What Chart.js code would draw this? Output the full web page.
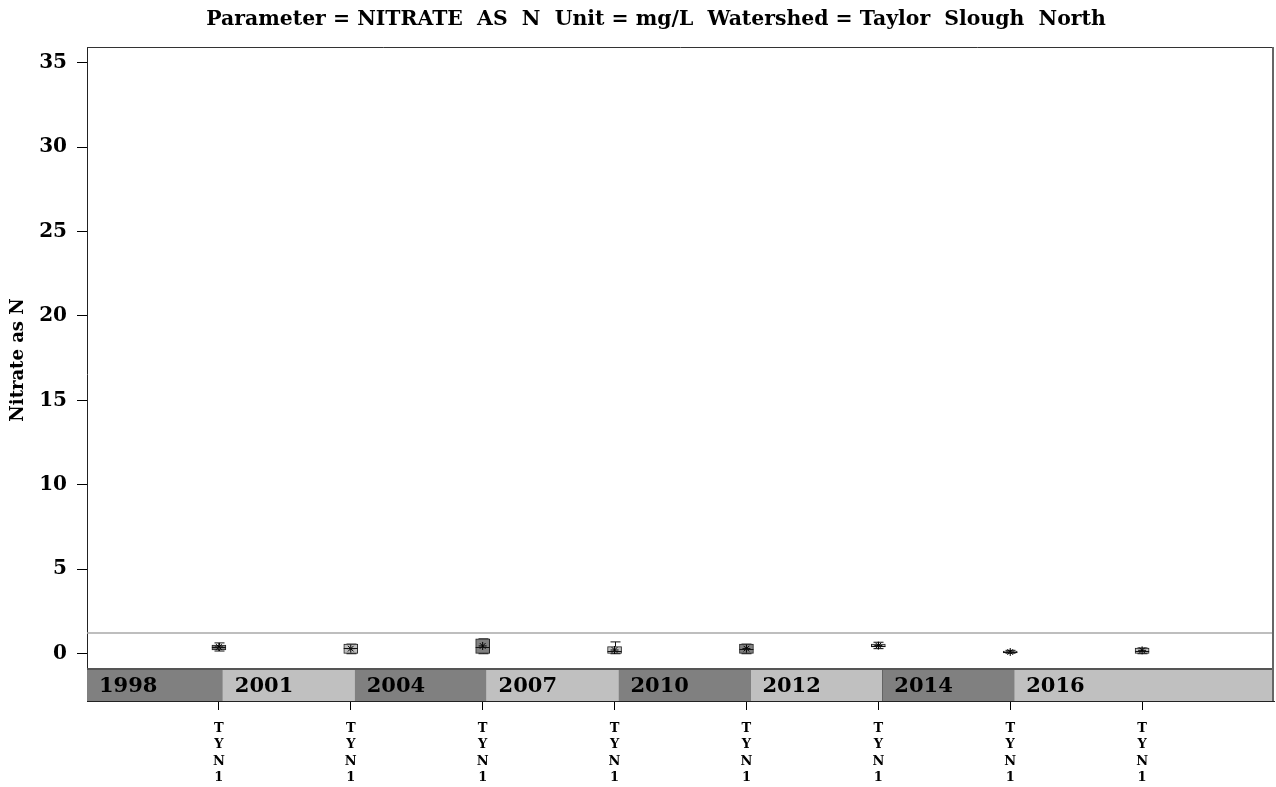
<!DOCTYPE html>
<html>
<head>
<meta charset="utf-8">
<script src="https://cdn.jsdelivr.net/npm/chart.js@4"></script>
<style>
  html, body { margin: 0; padding: 0; background: #fff; }
</style>
</head>
<body>
<canvas id="chart" width="1276" height="787"></canvas>
<script>
// data
const stations = ['TYN1', 'TYN1', 'TYN1', 'TYN1', 'TYN1', 'TYN1', 'TYN1', 'TYN1']
const years = ['1998', '2001', '2004', '2007', '2010', '2012', '2014', '2016']
const whiskerLow = [0.16, 0.0, 0.0, 0.0, 0.0, 0.30, 0.03, 0.0]
const q1 = [0.22, 0.02, 0.02, 0.02, 0.02, 0.40, 0.05, 0.02]
const median = [0.40, 0.34, 0.40, 0.16, 0.30, 0.48, 0.10, 0.18]
const q3 = [0.51, 0.57, 0.88, 0.42, 0.57, 0.57, 0.16, 0.34]
const whiskerHigh = [0.64, 0.57, 0.88, 0.70, 0.57, 0.68, 0.20, 0.34]
const means = [0.40, 0.30, 0.46, 0.22, 0.30, 0.48, 0.10, 0.20]
const yTicks = [0, 5, 10, 15, 20, 25, 30, 35]
const refLine = 1.22

const titleText = 'Parameter = NITRATE  AS  N  Unit = mg/L  Watershed = Taylor  Slough  North'
const yTitle = 'Nitrate as N'
const serif = "'DejaVu Serif', 'Liberation Serif', serif"

const dark = '#808080'
const light = '#c0c0c0'
const bandTop = -0.9
const bandShift = 0.03

const extras = {
  id: 'extras',
  beforeDatasetsDraw (chart) {
    const { ctx, chartArea: a, scales: { x, y } } = chart
    ctx.save()
    // year band under the boxes
    const top = y.getPixelForValue(bandTop)
    years.forEach((yr, i) => {
      const left = i === 0 ? a.left : x.getPixelForValue(i - 1 + bandShift)
      const right = i === years.length - 1 ? a.right : x.getPixelForValue(i + bandShift)
      ctx.fillStyle = i % 2 ? light : dark
      ctx.fillRect(left, top, right - left, a.bottom - top)
      if (i < years.length - 1) {
        ctx.strokeStyle = '#222'
        ctx.lineWidth = 1
        ctx.beginPath()
        ctx.moveTo(Math.round(right) + 0.5, top)
        ctx.lineTo(Math.round(right) + 0.5, a.bottom)
        ctx.stroke()
      }
      ctx.fillStyle = '#000'
      ctx.font = 'bold 21px ' + serif
      ctx.textBaseline = 'middle'
      ctx.textAlign = 'left'
      ctx.fillText(yr, left + 12, (top + a.bottom) / 2 + 2)
    })
    ctx.strokeStyle = '#555'
    ctx.lineWidth = 2
    ctx.beginPath()
    ctx.moveTo(a.left, top)
    ctx.lineTo(a.right, top)
    ctx.stroke()
    // reference line
    const ry = y.getPixelForValue(refLine)
    ctx.strokeStyle = '#a8a8a8'
    ctx.lineWidth = 1.5
    ctx.beginPath()
    ctx.moveTo(a.left, ry)
    ctx.lineTo(a.right, ry)
    ctx.stroke()
    // whiskers
    ctx.strokeStyle = '#111'
    ctx.lineWidth = 1
    stations.forEach((s, i) => {
      const cx = Math.round(x.getPixelForValue(i)) + 0.5
      const hi = y.getPixelForValue(whiskerHigh[i])
      const lo = y.getPixelForValue(whiskerLow[i])
      ctx.beginPath()
      ctx.moveTo(cx, y.getPixelForValue(q3[i]))
      ctx.lineTo(cx, hi)
      ctx.moveTo(cx - 5, hi)
      ctx.lineTo(cx + 5, hi)
      ctx.moveTo(cx, y.getPixelForValue(q1[i]))
      ctx.lineTo(cx, lo)
      ctx.moveTo(cx - 5, lo)
      ctx.lineTo(cx + 5, lo)
      ctx.stroke()
    })
    ctx.restore()
  },
  afterDatasetsDraw (chart) {
    const { ctx, scales: { x, y } } = chart
    ctx.save()
    ctx.strokeStyle = '#111'
    ctx.lineWidth = 1
    median.forEach((m, i) => {
      const cx = x.getPixelForValue(i)
      const my = Math.round(y.getPixelForValue(m)) + 0.5
      ctx.beginPath()
      ctx.moveTo(cx - 7, my)
      ctx.lineTo(cx + 7, my)
      ctx.stroke()
    })
    ctx.restore()
  },
  afterDraw (chart) {
    const { ctx, chartArea: a } = chart
    ctx.save()
    ctx.fillStyle = '#000'
    ctx.font = 'bold 22px ' + serif
    const w = ctx.measureText(titleText).width
    ctx.font = 'bold ' + (22 * 898 / w).toFixed(1) + 'px ' + serif
    ctx.textAlign = 'center'
    ctx.textBaseline = 'middle'
    ctx.fillText(titleText, 656, 20)
    ctx.translate(18, 360)
    ctx.rotate(-Math.PI / 2)
    ctx.font = 'bold 18px ' + serif
    ctx.fillText(yTitle, 0, 0)
    ctx.restore()
    // frame top / right
    ctx.save()
    ctx.strokeStyle = '#333'
    ctx.lineWidth = 1
    ctx.beginPath()
    ctx.moveTo(a.left, a.top + 0.5)
    ctx.lineTo(a.right, a.top + 0.5)
    ctx.stroke()
    ctx.strokeStyle = '#666'
    ctx.lineWidth = 2
    ctx.beginPath()
    ctx.moveTo(a.right - 1, a.top)
    ctx.lineTo(a.right - 1, a.bottom)
    ctx.stroke()
    ctx.restore()
  }
}

new Chart(document.getElementById('chart'), {
  data: {
    datasets: [
      {
        type: 'scatter',
        order: 0,
        data: means.map((v, i) => ({ x: i, y: v })),
        pointStyle: 'star',
        radius: 4,
        borderColor: '#000',
        borderWidth: 1
      },
      {
        type: 'bar',
        order: 1,
        data: q1.map((v, i) => ({ x: i, y: [v, q3[i]] })),
        backgroundColor: stations.map((s, i) => i % 2 ? light : dark),
        borderColor: '#222',
        borderWidth: 1,
        borderSkipped: false,
        barThickness: 14
      }
    ]
  },
  options: {
    responsive: false,
    animation: false,
    layout: { autoPadding: false, padding: { top: 47, right: 2, left: 0, bottom: 0 } },
    plugins: { legend: { display: false }, tooltip: { enabled: false } },
    scales: {
      x: {
        type: 'linear',
        offset: false,
        min: -1,
        max: 8,
        afterFit: (s) => {
          s.height = 86
          s.paddingLeft = 0
          s.paddingRight = 0
        },
        afterBuildTicks: (s) => { s.ticks = stations.map((st, i) => ({ value: i })) },
        grid: { offset: false, drawOnChartArea: false, color: '#000', tickLength: 9 },
        border: { color: '#222', width: 1 },
        ticks: {
          color: '#000',
          padding: 10,
          maxRotation: 0,
          autoSkip: false,
          font: { family: serif, size: 13, weight: 'bold', lineHeight: 1.27 },
          callback: (v) => stations[v] ? stations[v].split('') : ''
        }
      },
      y: {
        type: 'linear',
        min: -2.8,
        max: 35.93,
        afterFit: (s) => { s.width = 87 },
        afterBuildTicks: (s) => { s.ticks = yTicks.map((v) => ({ value: v })) },
        grid: { drawOnChartArea: false, color: '#000', tickLength: 10 },
        border: { color: '#222', width: 1 },
        ticks: {
          color: '#000',
          padding: 10,
          font: { family: serif, size: 20, weight: 'bold' }
        }
      }
    }
  },
  plugins: [extras]
})
</script>
</body>
</html>
